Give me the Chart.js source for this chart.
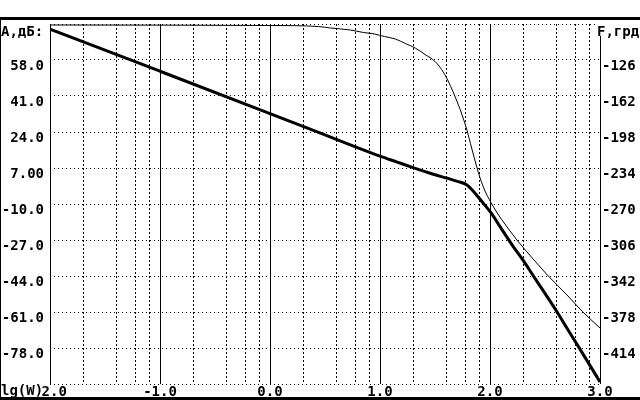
<!DOCTYPE html>
<html>
<head>
<meta charset="utf-8">
<script src="https://cdn.jsdelivr.net/npm/chart.js@4.4.0/dist/chart.umd.min.js"></script>
<style>
  html, body { margin: 0; padding: 0; background: #fff; }
  #wrap { width: 640px; height: 400px; position: relative; }
</style>
</head>
<body>
<div id="wrap"><canvas id="bode"></canvas></div>
<script>
// АЧХ: lg(W) -> А, дБ
const lgA = [-2.0, -1.0, 0.0, 0.5, 0.8, 1.0, 1.15, 1.3, 1.41, 1.5, 1.61, 1.71, 1.79, 1.86, 1.94, 2.015, 2.09, 2.21, 2.3, 2.4, 2.61, 2.7, 2.8, 2.9, 3.0];
const ampDb = [72.6, 52.7, 32.7, 22.6, 16.5, 12.6, 9.9, 7.2, 5.3, 3.8, 2.2, 0.6, -1.0, -4.7, -9.7, -14.6, -20.6, -30.0, -36.5, -44.4, -61.0, -68.7, -77.0, -85.5, -94.0];

// ФЧХ: lg(W) -> F, град
const lgF = [-2.0, 0.0, 0.44, 0.55, 0.73, 0.85, 0.95, 1.04, 1.14, 1.23, 1.32, 1.41, 1.5, 1.56, 1.606, 1.68, 1.74, 1.79, 1.833, 1.88, 1.91, 1.955, 2.006, 2.06, 2.106, 2.245, 2.4, 2.53, 2.7, 2.835, 3.0];
const phaseDeg = [-91, -91.5, -92.5, -94, -96, -98.5, -100, -102.5, -105, -109.5, -114, -120.5, -127.5, -135.5, -144, -162, -179, -196, -214, -233, -244, -257, -268, -278, -285.5, -306, -326, -342, -361, -377, -394];

// оси
const decades = [-2, -1, 0, 1, 2, 3];
const decadeLabels = ['-2.0', '-1.0', '0.0', '1.0', '2.0', '3.0'];
const subDiv = [2, 4, 6, 8];
const ampTicks = [-95, -78, -61, -44, -27, -10, 7, 24, 41, 58, 75];
const ampLabels = ['', '-78.0', '-61.0', '-44.0', '-27.0', '-10.0', '7.00', '24.0', '41.0', '58.0', ''];
const phaseTicks = [-450, -414, -378, -342, -306, -270, -234, -198, -162, -126, -90];
const phaseLabels = ['', '-414', '-378', '-342', '-306', '-270', '-234', '-198', '-162', '-126', ''];

// вертикальная сетка: декады + 2,4,6,8
const xGrid = [];
decades.forEach(d => {
    xGrid.push(d);
    if (d < 3) subDiv.forEach(k => xGrid.push(d + Math.log10(k)));
});

const tickFont = { family: 'DejaVu Sans Mono', size: 14, weight: 'bold' };

const frame = {
    id: 'frame',
    afterDraw(chart) {
        const ctx = chart.ctx;
        ctx.save();
        ctx.fillStyle = '#000';
        ctx.fillRect(0, 17, 640, 3);
        ctx.fillRect(0, 17, 1, 383);
        ctx.fillRect(0, 397, 640, 3);
        ctx.font = 'bold 14px "DejaVu Sans Mono"';
        ctx.textBaseline = 'top';
        ctx.fillText('А,дБ:', 1, 25);
        ctx.fillStyle = '#fff';
        ctx.fillRect(596, 21, 44, 15);
        ctx.fillStyle = '#000';
        ctx.fillText('F,грд', 597, 25);
        ctx.fillStyle = '#fff';
        ctx.fillRect(1, 385, 38, 12);
        ctx.fillStyle = '#000';
        ctx.fillText('lg(W)', 1, 384);
        ctx.restore();
    }
};

const chart = new Chart(document.getElementById('bode'), {
    type: 'scatter',
    data: {
        datasets: [{
            data: lgA.map((x, i) => ({ x: x, y: ampDb[i] })),
            yAxisID: 'y',
            showLine: true,
            cubicInterpolationMode: 'monotone',
            borderColor: '#000',
            borderWidth: 3,
            pointRadius: 0
        }, {
            data: lgF.map((x, i) => ({ x: x, y: phaseDeg[i] })),
            yAxisID: 'y2',
            showLine: true,
            cubicInterpolationMode: 'monotone',
            borderColor: '#000',
            borderWidth: 1,
            pointRadius: 0
        }]
    },
    options: {
        responsive: true,
        maintainAspectRatio: false,
        animation: false,
        layout: { padding: { top: 24 } },
        plugins: { legend: { display: false }, tooltip: { enabled: false } },
        scales: {
            x: {
                type: 'linear',
                min: -2,
                max: 3,
                afterBuildTicks: s => { s.ticks = xGrid.map(v => ({ value: v })); },
                afterFit: s => { s.height = 16; },
                ticks: {
                    autoSkip: false,
                    maxRotation: 0,
                    padding: 0,
                    color: '#000',
                    font: tickFont,
                    callback: v => {
                        const i = decades.indexOf(v);
                        return i >= 0 ? decadeLabels[i] : '';
                    }
                },
                grid: { color: '#000', lineWidth: 1, drawTicks: false },
                border: {
                    display: false,
                    dash: ctx => (ctx.tick && decades.indexOf(ctx.tick.value) >= 0) ? [] : [2, 2]
                }
            },
            y: {
                position: 'left',
                min: -95,
                max: 75,
                afterBuildTicks: s => { s.ticks = ampTicks.map(v => ({ value: v })); },
                afterFit: s => { s.width = 50; },
                ticks: {
                    padding: 6,
                    labelOffset: 6,
                    color: '#000',
                    font: tickFont,
                    callback: v => ampLabels[ampTicks.indexOf(v)]
                },
                grid: { color: '#000', lineWidth: 1, drawTicks: false },
                border: { display: false, dash: [1, 3] }
            },
            y2: {
                position: 'right',
                min: -450,
                max: -90,
                afterBuildTicks: s => { s.ticks = phaseTicks.map(v => ({ value: v })); },
                afterFit: s => { s.width = 40; },
                ticks: {
                    padding: 2,
                    labelOffset: 6,
                    color: '#000',
                    font: tickFont,
                    callback: v => phaseLabels[phaseTicks.indexOf(v)]
                },
                grid: { drawOnChartArea: false, drawTicks: false },
                border: { display: false }
            }
        }
    },
    plugins: [frame]
});
</script>
</body>
</html>
